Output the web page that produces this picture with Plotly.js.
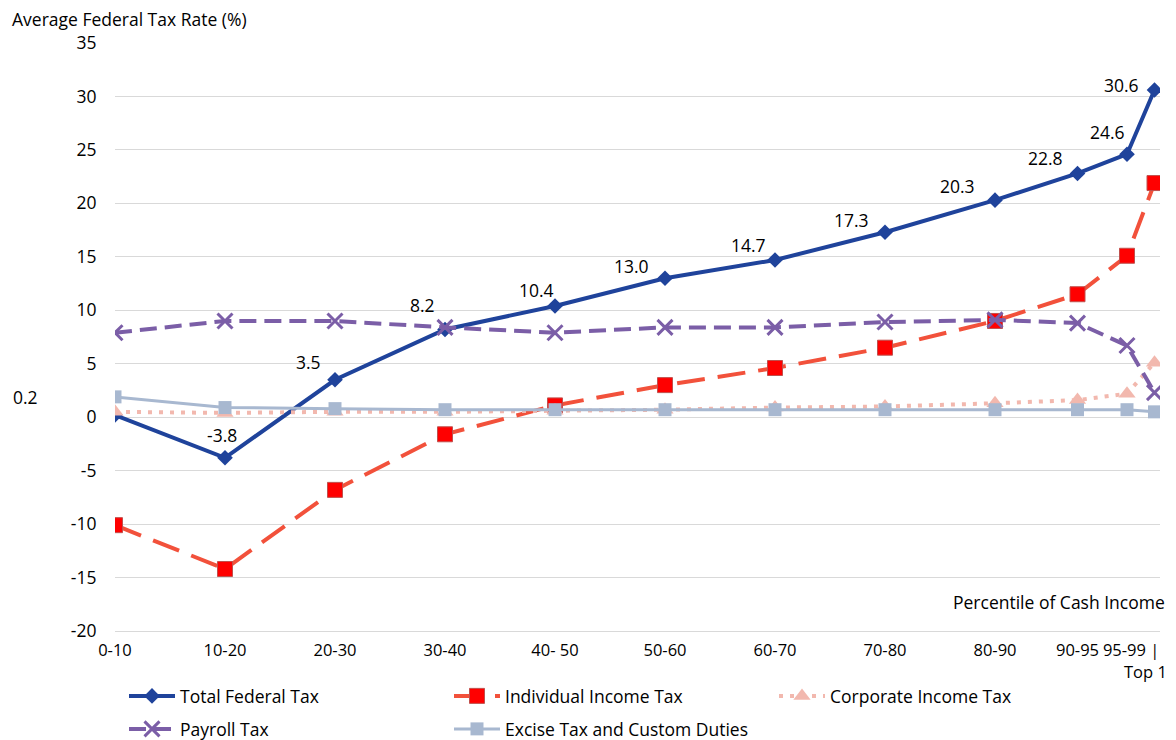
<!DOCTYPE html>
<html>
<head>
<meta charset="utf-8">
<script src="https://cdn.plot.ly/plotly-3.0.1.min.js"></script>
<style>html,body{margin:0;padding:0;background:#fff;}#chart{width:1176px;height:740px;}</style>
</head>
<body>
<div id="chart"></div>
<script>
// Percentile groups (x = midpoint of percentile band)
const categories = ['0-10','10-20','20-30','30-40','40- 50','50-60','60-70','70-80','80-90','90-95','95-99 |','Top 1'];
const midpoints = [5, 15, 25, 35, 45, 55, 65, 75, 85, 92.5, 97, 99.5];
const tickLabels = ['0-10','10-20','20-30','30-40','40- 50','50-60','60-70','70-80','80-90','90-95','\u200295-99 |',''];
const lastLabel = 'Top 1';

const totalFederal = [0.2, -3.8, 3.5, 8.2, 10.4, 13.0, 14.7, 17.3, 20.3, 22.8, 24.6, 30.6];
const individualIncome = [-10.1, -14.2, -6.8, -1.6, 1.1, 3.0, 4.6, 6.5, 9.0, 11.5, 15.1, 21.9];
const corporateIncome = [0.5, 0.4, 0.5, 0.5, 0.6, 0.7, 0.9, 1.0, 1.3, 1.6, 2.2, 5.1];
const payroll = [7.9, 9.0, 9.0, 8.4, 7.9, 8.4, 8.4, 8.9, 9.1, 8.8, 6.7, 2.3];
const excise = [1.9, 0.9, 0.8, 0.7, 0.7, 0.7, 0.7, 0.7, 0.7, 0.7, 0.7, 0.5];

const yTicks = [-20,-15,-10,-5,0,5,10,15,20,25,30,35];
const yTickText = ['-20','-15','-10','-5','0','5','10','15','20','25','30','35'];

const FONT = '"Open Sans", sans-serif';
const FS = 17.5;

const traces = [
  {name:'Total Federal Tax', x:midpoints, y:totalFederal, type:'scatter', mode:'lines+markers',
   line:{color:'#1F439B', width:4}, marker:{symbol:'diamond', size:12, color:'#1F439B'}, legend:'legend'},
  {name:'Individual Income Tax', x:midpoints, y:individualIncome, type:'scatter', mode:'lines+markers',
   line:{color:'#F2513B', width:4, dash:'28px,13px'}, marker:{symbol:'square', size:15, color:'#FF0000', line:{color:'#C0504D', width:1}}, legend:'legend2'},
  {name:'Corporate Income Tax', x:midpoints, y:corporateIncome, type:'scatter', mode:'lines+markers',
   line:{color:'#F2B8AE', width:4, dash:'4px,7px'}, marker:{symbol:'triangle-up', size:15, color:'#F2B8AE'}, legend:'legend3'},
  {name:'Payroll Tax', x:midpoints, y:payroll, type:'scatter', mode:'lines+markers',
   line:{color:'#7B5EA7', width:4, dash:'17px,8px'}, marker:{symbol:'x-thin', size:15, color:'#7B5EA7', line:{color:'#7B5EA7', width:3}}, legend:'legend4'},
  {name:'Excise Tax and Custom Duties', x:midpoints, y:excise, type:'scatter', mode:'lines+markers',
   line:{color:'#A8B8D0', width:3}, marker:{symbol:'square', size:13, color:'#A8B8D0'}, legend:'legend5'}
];

// label offsets in pixels (screen placement only)
const labelDx = [-90, -3, -27, -23, -19, -34, -27, -34, -38, -32, -20, -33];
const labelDy = [18, 23, 18, 25, 16, 12, 15, 12, 14, 15, 22, 5];

const annotations = totalFederal.map((v,i)=>({
  x: midpoints[i], y: v, xref:'x', yref:'y', text: v.toFixed(1), showarrow:false,
  xshift: labelDx[i], yshift: labelDy[i], font:{family:FONT, size:FS, color:'#000'}
}));
annotations.push({xref:'paper', yref:'paper', x:-0.1005, y:1.04, xanchor:'left', yanchor:'middle',
  text:'Average Federal Tax Rate (%)', showarrow:false, font:{family:FONT, size:FS, color:'#000'}});
annotations.push({xref:'paper', yref:'paper', x:1.0067, y:0.0493, xanchor:'right', yanchor:'middle',
  text:'Percentile of Cash Income', showarrow:false, font:{family:FONT, size:FS, color:'#000'}});
annotations.push({xref:'paper', yref:'paper', x:(1169-115)/1045, y:(631-671)/588, xanchor:'right', yanchor:'middle',
  text:lastLabel, showarrow:false, font:{family:FONT, size:16.5, color:'#000'}});

function leg(px, py){
  return {xref:'container', yref:'container', x:px/1176, y:1-py/740, xanchor:'left', yanchor:'middle', orientation:'v',
    bgcolor:'rgba(0,0,0,0)', font:{family:FONT, size:FS, color:'#000'}, itemwidth:46};
}

const layout = {
  width:1176, height:740,
  margin:{l:115, r:16, t:43, b:109, autoexpand:false},
  paper_bgcolor:'#fff', plot_bgcolor:'#fff',
  font:{family:FONT, size:FS, color:'#000'},
  xaxis:{range:[5,100], tickvals:midpoints, ticktext:tickLabels, showgrid:false, zeroline:false,
    showline:true, linecolor:'#D9D9D9', linewidth:1, ticks:'outside', ticklen:4, tickcolor:'rgba(0,0,0,0)',
    tickangle:0, automargin:false, tickfont:{family:FONT, size:16.5, color:'#000'}},
  yaxis:{range:[-20,35], tickvals:yTicks, ticktext:yTickText, showgrid:true, gridcolor:'#D9D9D9', gridwidth:1, zeroline:false,
    showline:false, ticks:'outside', ticklen:14, tickcolor:'rgba(0,0,0,0)', automargin:false,
    tickfont:{family:FONT, size:FS, color:'#000'}},
  showlegend:true,
  legend: leg(124, 696),
  legend2: leg(449, 696),
  legend3: leg(774, 696),
  legend4: leg(124, 729),
  legend5: leg(449, 729),
  annotations: annotations
};

Plotly.newPlot('chart', traces, layout, {displayModeBar:false, staticPlot:true});
</script>
</body>
</html>
